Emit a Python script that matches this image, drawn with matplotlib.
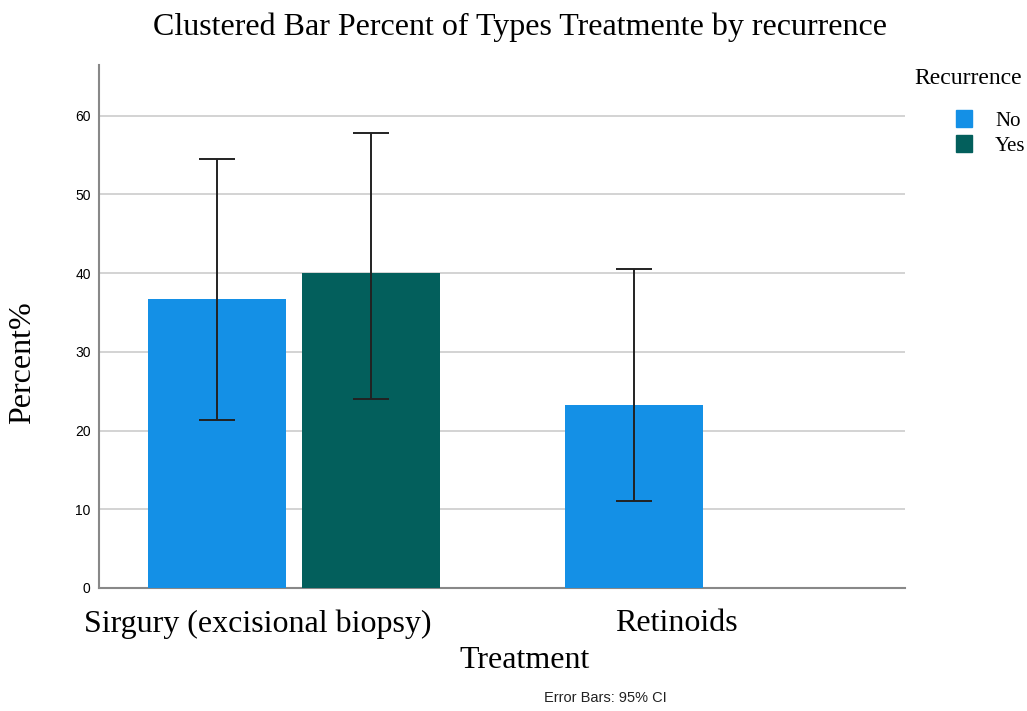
import numpy as np
import matplotlib.pyplot as plt
from matplotlib.patches import Patch

# Data
treatments = ["Sirgury (excisional biopsy)", "Retinoids"]
recurrence = ["No", "Yes"]
pct_no = [36.7, 23.3]
pct_yes = [40.0, 0.0]
ci_no_low = [21.3, 11.1]
ci_no_high = [54.5, 40.5]
ci_yes_low = [24.0, np.nan]
ci_yes_high = [57.8, np.nan]

blue = "#1490E6"
teal = "#035F5C"

fig = plt.figure(figsize=(10.27, 7.11), dpi=100)
ax = fig.add_axes([0.0964, 0.173, 0.7846, 0.7356])

x = np.arange(len(treatments))
w = 0.331
off = 0.185

ax.bar(x - off, pct_no, width=w, color=blue, zorder=3)
ax.bar(x + off, pct_yes, width=w, color=teal, zorder=3)

# error bars (95% CI)
for xs, vals, lo, hi in [(x - off, pct_no, ci_no_low, ci_no_high),
                         (x + off, pct_yes, ci_yes_low, ci_yes_high)]:
    vals = np.array(vals)
    lo = np.array(lo)
    hi = np.array(hi)
    ok = ~np.isnan(lo)
    ax.errorbar(xs[ok], vals[ok], yerr=[vals[ok] - lo[ok], hi[ok] - vals[ok]],
                fmt='none', ecolor='#222222', elinewidth=1.4, capsize=13,
                capthick=1.4, zorder=4)

ax.set_xlim(-0.468, 1.465)
ax.set_ylim(0, 66.45)
ax.set_yticks([0, 10, 20, 30, 40, 50, 60])
ax.set_yticklabels(["0", "10", "20", "30", "40", "50", "60"],
                   family="Liberation Sans", fontsize=10)
ax.yaxis.grid(True, color="#CCCCCC", linewidth=1.2, zorder=0)
ax.tick_params(axis='y', length=0, pad=6)
ax.set_xticks([])
for s in ["top", "right"]:
    ax.spines[s].set_visible(False)
ax.spines["left"].set_color("#888888")
ax.spines["bottom"].set_color("#888888")
ax.spines["left"].set_linewidth(1.5)
ax.spines["bottom"].set_linewidth(1.5)

# category labels
ax.text(-0.087, -2.7, treatments[0], ha='center', va='top',
        family="Liberation Serif", fontsize=23)
ax.text(0.918, -2.7, treatments[1], ha='center', va='top',
        family="Liberation Serif", fontsize=23)

fig.text(0.511, 0.071, "Treatment", ha='center', va='center',
         family="Liberation Serif", fontsize=23)
fig.text(0.022, 0.49, "Percent%", ha='center', va='center', rotation=90,
         family="Liberation Serif", fontsize=23)
fig.text(0.506, 0.962, "Clustered Bar Percent of Types Treatmente by recurrence",
         ha='center', va='center', family="Liberation Serif", fontsize=23)
fig.text(0.589, 0.018, "Error Bars: 95% CI", ha='center', va='center',
         family="Liberation Sans", fontsize=10.5, color="#222222")

# legend
fig.text(0.943, 0.89, "Recurrence", ha='center', va='center',
         family="Liberation Serif", fontsize=17)
handles = [Patch(color=blue, label=recurrence[0]),
           Patch(color=teal, label=recurrence[1])]
fig.legend(handles=handles, loc='upper left', bbox_to_anchor=(0.913, 0.872),
           frameon=False, prop={'family': 'Liberation Serif', 'size': 15},
           handlelength=0.75, handleheight=0.9, handletextpad=1.1,
           labelspacing=0.2)

fig.savefig("out.png", dpi=100)
